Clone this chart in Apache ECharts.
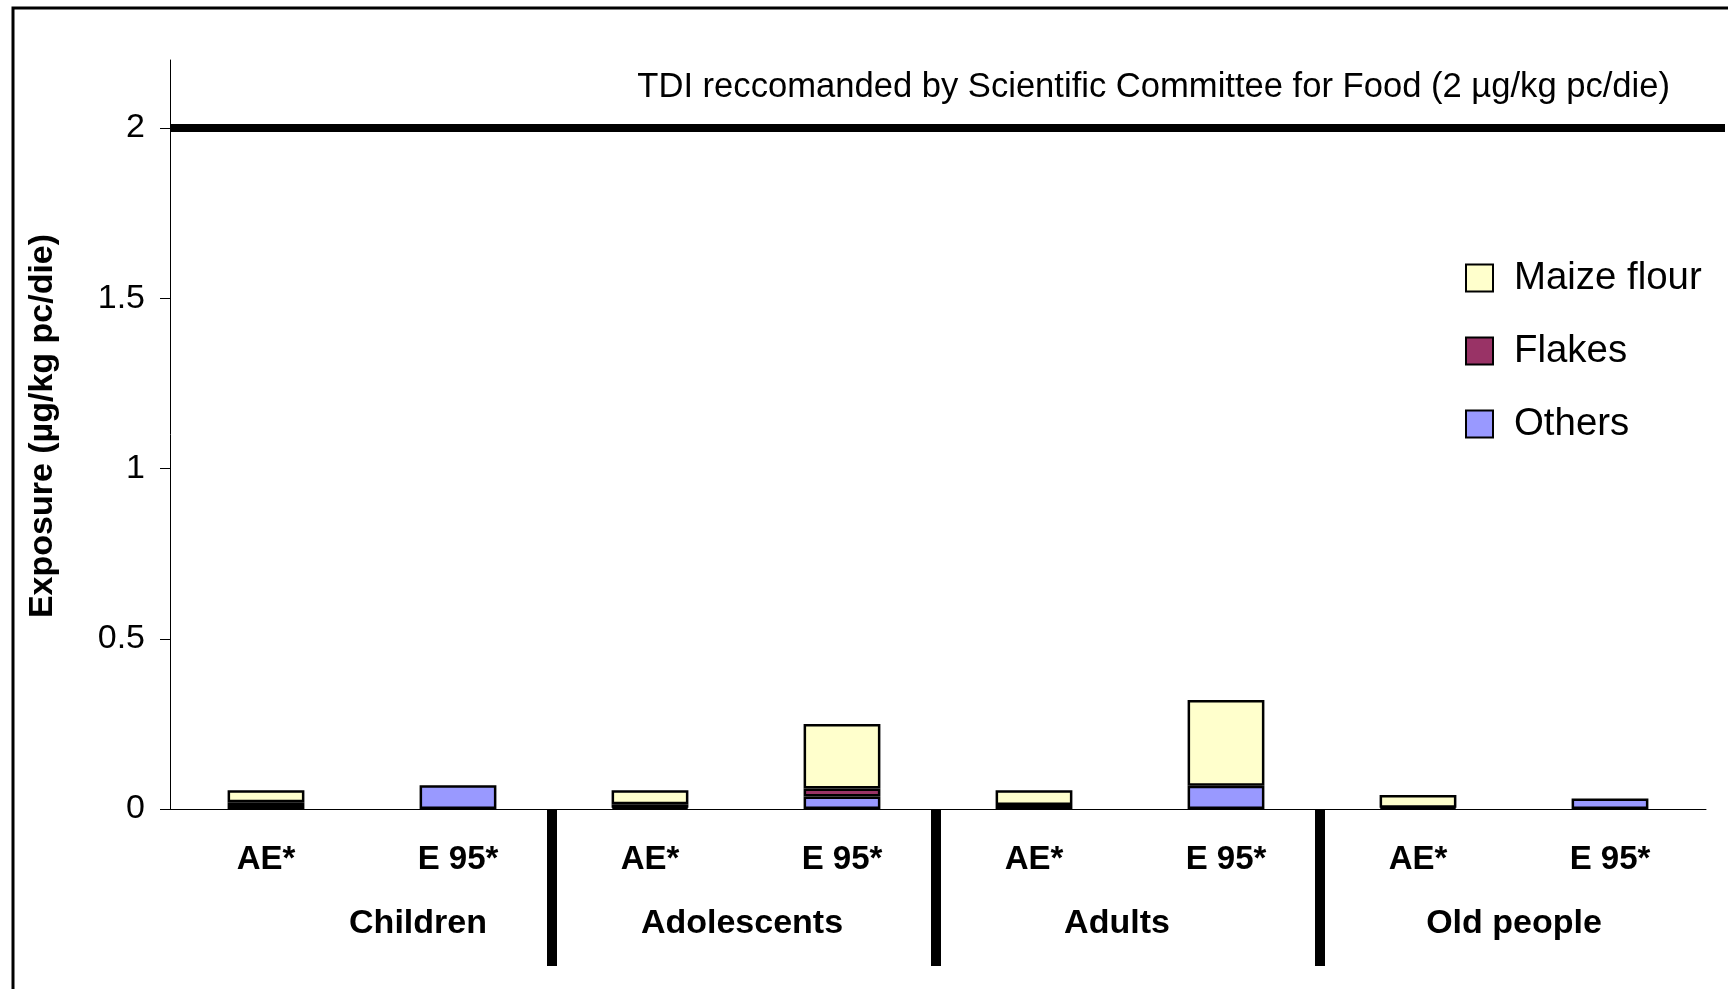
<!DOCTYPE html>
<html>
<head>
<meta charset="utf-8">
<style>
  html, body { margin: 0; padding: 0; background: #fff; }
  #chart { width: 1728px; height: 989px; }
</style>
<script src="https://cdn.jsdelivr.net/npm/echarts@6/dist/echarts.min.js"></script>
</head>
<body>
<div id="chart"></div>
<script>
// Estimates per population group: average (AE*) and 95th percentile (E 95*)
const categories = ['AE*', 'E 95*', 'AE*', 'E 95*', 'AE*', 'E 95*', 'AE*', 'E 95*'];
const groups = ['Children', 'Adolescents', 'Adults', 'Old people'];
const groupBoundaries = [1, 2, 3];

// null where a food makes no contribution
const others = [0.012, 0.070, 0.004, 0.037, 0.012, 0.068, 0.004, 0.031];
const flakes = [0.008, null, 0.010, 0.023, null, null, null, null];
const maizeFlour = [0.035, null, 0.041, 0.190, 0.043, 0.252, 0.037, null];

const yTicks = [0, 0.5, 1, 1.5, 2];
const tdi = 2;
const tdiLabel = 'TDI reccomanded by Scientific Committee for Food (2 µg/kg pc/die)';

const FONT = '"Liberation Sans", Arial, sans-serif';

const chart = echarts.init(document.getElementById('chart'));

const barStyle = (color) => ({ color: color, borderColor: '#000', borderWidth: 2.5 });

// group names are nudged slightly off their band centres
const groupLabelRich = {
  g0: { fontFamily: FONT, fontSize: 34, fontWeight: 'bold', color: '#000', padding: [0, 0, 0, 112] },
  g1: { fontFamily: FONT, fontSize: 34, fontWeight: 'bold', color: '#000', padding: [0, 8, 0, 0] },
  g2: { fontFamily: FONT, fontSize: 34, fontWeight: 'bold', color: '#000', padding: [0, 26, 0, 0] },
  g3: { fontFamily: FONT, fontSize: 34, fontWeight: 'bold', color: '#000' }
};

chart.setOption({
  animation: false,
  backgroundColor: '#fff',
  textStyle: { fontFamily: FONT, color: '#000' },
  title: {
    text: tdiLabel,
    right: 58,
    top: 70,
    padding: 0,
    textStyle: { fontFamily: FONT, fontSize: 34.6, fontWeight: 'normal', color: '#000' }
  },
  graphic: [{
    type: 'rect',
    silent: true,
    shape: { x: 13, y: 8, width: 3000, height: 3000 },
    style: { fill: 'none', stroke: '#000', lineWidth: 3 }
  }],
  legend: {
    orient: 'vertical',
    left: 1460,
    top: 254,
    itemWidth: 27,
    itemHeight: 27,
    itemGap: 35,
    icon: 'rect',
    data: ['Maize flour', 'Flakes', 'Others'],
    textStyle: { fontFamily: FONT, fontSize: 38.4, color: '#000', padding: [0, 0, 0, 16] }
  },
  grid: { left: 170, right: 22, top: 60, bottom: 180 },
  xAxis: [{
    type: 'category',
    data: categories,
    axisLine: { lineStyle: { color: '#000', width: 1 } },
    axisTick: { length: 12, lineStyle: { color: '#000', width: 1 } },
    axisLabel: { interval: 0, margin: 34, fontFamily: FONT, fontSize: 33, fontWeight: 'bold', color: '#000' }
  }, {
    type: 'category',
    data: groups,
    position: 'bottom',
    axisLine: { show: false },
    axisTick: { show: false },
    axisLabel: {
      interval: 0,
      margin: 98,
      fontFamily: FONT,
      fontSize: 34,
      fontWeight: 'bold',
      color: '#000',
      formatter: (v, i) => '{g' + i + '|' + v + '}',
      rich: groupLabelRich
    }
  }],
  yAxis: {
    type: 'value',
    min: 0,
    max: 2.2,
    interval: 0.5,
    name: 'Exposure (µg/kg pc/die)',
    nameLocation: 'middle',
    nameGap: 110,
    nameTextStyle: { fontFamily: FONT, fontSize: 34, fontWeight: 'bold', color: '#000', padding: [0, 0, 0, 17] },
    splitLine: { show: false },
    axisLine: { show: true, lineStyle: { color: '#000', width: 1 } },
    axisTick: { show: true, length: 10, customValues: yTicks, lineStyle: { color: '#000', width: 1 } },
    axisLabel: { margin: 25, fontFamily: FONT, fontSize: 34, color: '#000', customValues: yTicks }
  },
  series: [
    { name: 'Others', type: 'bar', stack: 'exp', barWidth: '40%', data: others, itemStyle: barStyle('#9999FF') },
    { name: 'Flakes', type: 'bar', stack: 'exp', barWidth: '40%', data: flakes, itemStyle: barStyle('#993366') },
    { name: 'Maize flour', type: 'bar', stack: 'exp', barWidth: '40%', data: maizeFlour, itemStyle: barStyle('#FFFFCC') },
    {
      // tolerable daily intake reference line, running to the right edge of the frame
      name: 'TDI',
      type: 'custom',
      silent: true,
      clip: false,
      data: [[0, tdi]],
      renderItem: function (params, api) {
        const y = api.coord([0, api.value(1)])[1];
        return {
          type: 'line',
          shape: { x1: params.coordSys.x, y1: y, x2: api.getWidth() - 3, y2: y },
          style: { stroke: '#000', lineWidth: 8 }
        };
      }
    },
    {
      // thick separators between the population groups
      name: 'separators',
      type: 'custom',
      silent: true,
      clip: false,
      xAxisIndex: 1,
      data: groupBoundaries.map((g) => [g, 0]),
      renderItem: function (params, api) {
        const c = api.coord([api.value(0), api.value(1)]);
        const band = api.size([1, 0])[0];
        const x = c[0] - band / 2;
        return {
          type: 'rect',
          shape: { x: x - 7, y: c[1], width: 10, height: 157 },
          style: { fill: '#000' }
        };
      }
    }
  ]
});
</script>
</body>
</html>
